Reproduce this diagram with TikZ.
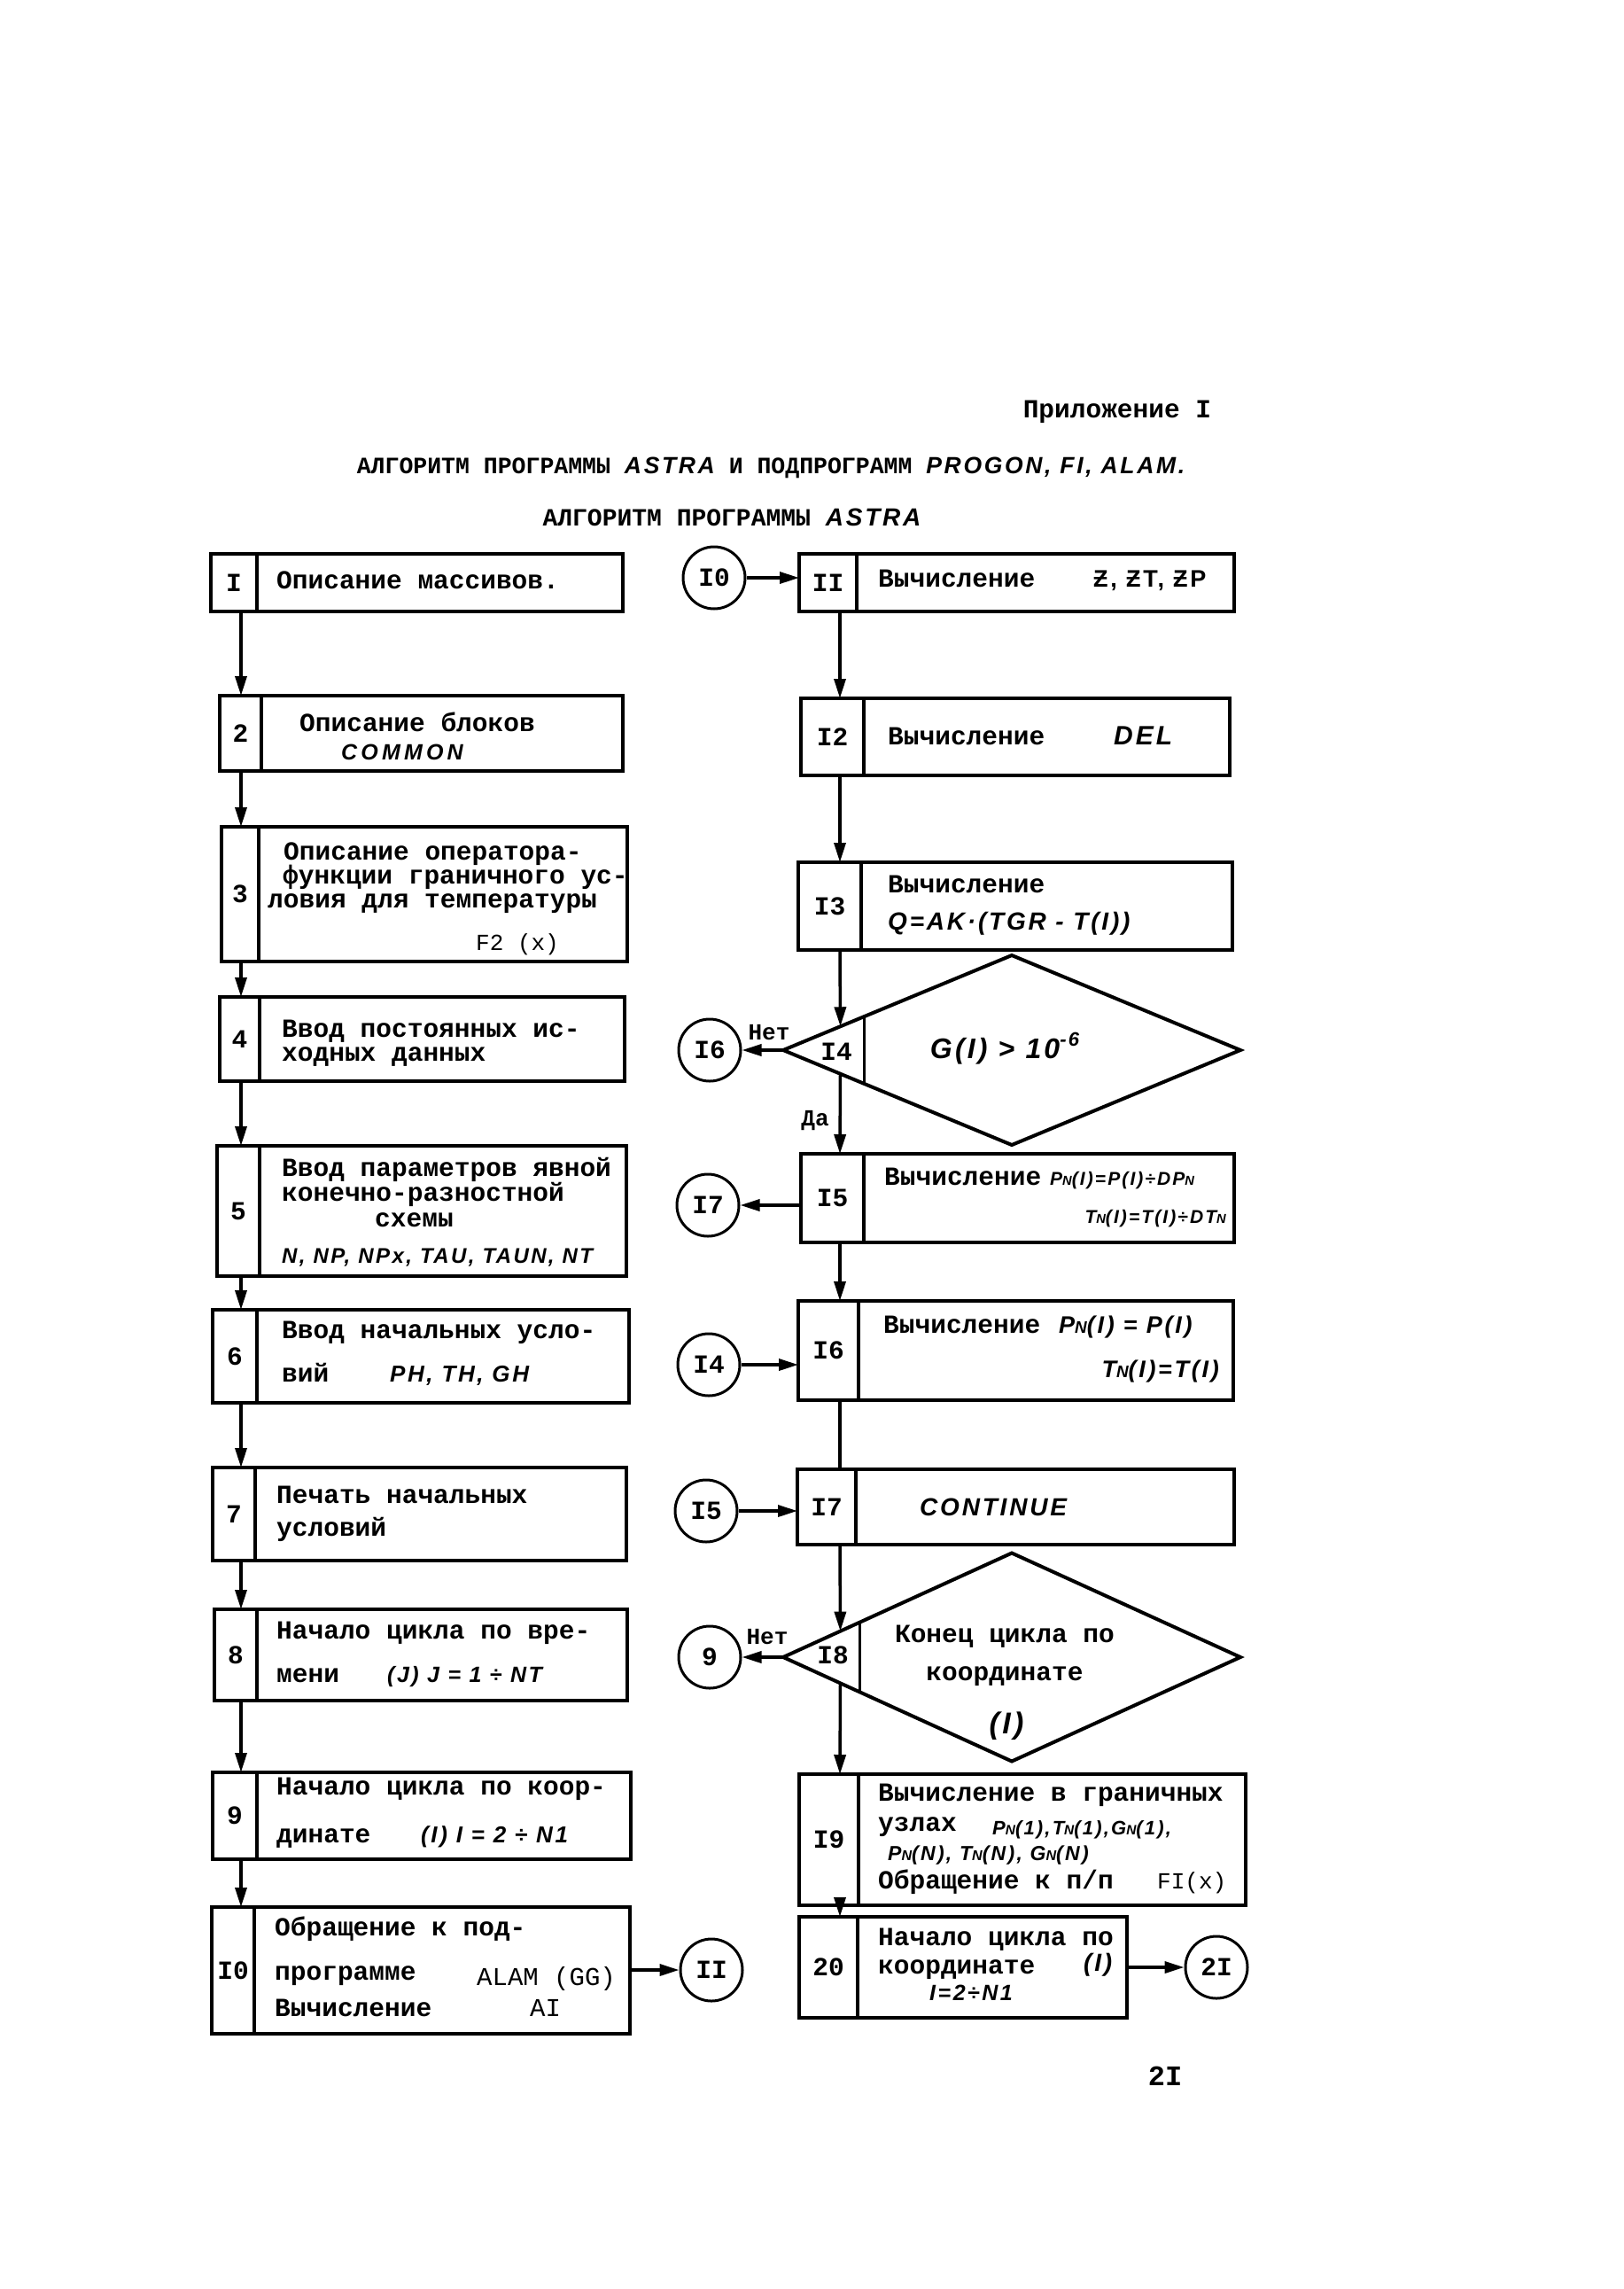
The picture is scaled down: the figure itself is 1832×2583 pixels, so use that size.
\documentclass[tikz,border=0pt]{standalone}
\usepackage{fontspec}
\setmainfont{Liberation Mono}
\newfontfamily\hand[LetterSpace=10]{Liberation Sans}
\usetikzlibrary{arrows.meta,calc,shapes.geometric}
\newcommand{\hw}[2][25]{{\hand\itshape\fontsize{#1}{#1}\selectfont #2}}
\newcommand{\sn}{\scalebox{0.7}{N}}
\newcommand{\tp}[2][29]{{\mdseries\fontsize{#1}{#1}\selectfont #2}}
\newcommand{\blk}[7]{%
  \node[numcell, minimum width=#4-#2, minimum height=#5-#3, anchor=north west] (n#1) at (#2,#3) {#7};
  \node[box, minimum width=#6-#4, minimum height=#5-#3, anchor=north west] (b#1) at (#4,#3) {};}

\begin{document}
\begin{tikzpicture}[x=1pt,y=-1pt]
    \tikzstyle{every node}=[font=\fontsize{29.5}{27}\selectfont\bfseries]
    \tikzstyle{box}=[draw, line width=4pt, inner sep=0pt, outer sep=0pt]
    \tikzstyle{numcell}=[box]
    \tikzstyle{tx}=[anchor=west, inner sep=0pt, text height=20pt, text depth=6pt]
    \tikzstyle{conn}=[draw, circle, line width=3pt, minimum size=70pt, inner sep=0pt]
    \tikzstyle{dec}=[draw, diamond, line width=4pt, inner sep=0pt, outer sep=0pt]
    \tikzstyle{arr}=[line width=3.5pt, -{Triangle[length=22pt,width=13pt]}]
    \tikzstyle{link}=[line width=3.5pt]
    \fill[white] (0,0) rectangle (1832,2583);
    \useasboundingbox (0,0) rectangle (1832,2583);
    \coordinate (ax) at (272,0);
    \coordinate (bx) at (948,0);

    \node (hdr1) at (1261,465) {Приложение I};
    \node (hdr2) at (870,528) {\fontsize{26.5}{28}\selectfont АЛГОРИТМ ПРОГРАММЫ \hw[26.5]{ASTRA} И ПОДПРОГРАММ \hw[26.5]{PROGON, FI, ALAM.}};
    \node (hdr3) at (826,584) {\fontsize{28}{28}\selectfont АЛГОРИТМ ПРОГРАММЫ \hw[28]{ASTRA}};

    \blk{1}{238}{625}{290}{690}{703}{I}
    \blk{2}{248}{785}{295}{870}{703}{2}
    \blk{3}{250}{933}{292}{1085}{708}{3}
    \blk{4}{248}{1125}{293}{1220}{705}{4}
    \blk{5}{245}{1293}{293}{1440}{707}{5}
    \blk{6}{240}{1478}{290}{1583}{710}{6}
    \blk{7}{240}{1656}{288}{1761}{707}{7}
    \blk{8}{242}{1816}{290}{1919}{708}{8}
    \blk{9}{240}{2000}{290}{2098}{712}{9}
    \blk{10}{239}{2152}{287}{2295}{711}{I0}

    \blk{11}{902}{625}{967}{690}{1393}{II}
    \blk{12}{904}{788}{975}{875}{1388}{I2}
    \blk{13}{901}{973}{972}{1072}{1391}{I3}
    \blk{15}{904}{1302}{975}{1402}{1393}{I5}
    \blk{16}{901}{1468}{969}{1580}{1392}{I6}
    \blk{17}{900}{1658}{966}{1743}{1393}{I7}
    \blk{19}{902}{2002}{969}{2150}{1406}{I9}
    \blk{20}{902}{2163}{968}{2277}{1272}{20}

    \node[dec, minimum width=516, minimum height=214] (d14) at (1142,1185) {};
    \node[dec, minimum width=516, minimum height=235] (d18) at (1142,1870) {};
    \draw[line width=3pt] ($(d14.west)!0.353!(d14.north)$) -- ($(d14.west)!0.353!(d14.south)$);
    \draw[line width=3pt] ($(d18.west)!0.337!(d18.north)$) -- ($(d18.west)!0.337!(d18.south)$);
    \node (n14) at (944,1187) {I4};
    \node (n18) at (940,1868) {I8};

    \node[conn] (c10) at (806,652) {I0};
    \node[conn] (c16) at (801,1185) {I6};
    \node[conn] (c17) at (799,1360) {I7};
    \node[conn] (c14) at (800,1540) {I4};
    \node[conn] (c15) at (797,1705) {I5};
    \node[conn] (c9) at (801,1870) {9};
    \node[conn] (cII) at (803,2223) {II};
    \node[conn] (c21) at (1373,2220) {2I};

    \node[tx] (t1) at (312,657) {Описание массивов.};
    \node[tx] (t2a) at (338,818) {Описание блоков};
    \node[tx] (t2b) at (385,850) {\hw{C\,O\,M\,M\,O\,N}};
    \node[tx] (t3a) at (320,963) {Описание оператора-};
    \node[tx] (t3b) at (319,990) {функции граничного ус-};
    \node[tx] (t3c) at (302,1017) {ловия для температуры};
    \node[tx] (t3d) at (537,1065) {\tp[26]{F2 (x)}};
    \node[tx] (t4a) at (318,1163) {Ввод постоянных ис-};
    \node[tx] (t4b) at (318,1190) {ходных данных};
    \node[tx] (t5a) at (318,1320) {Ввод параметров явной};
    \node[tx] (t5b) at (318,1348) {конечно-разностной};
    \node[tx] (t5c) at (423,1377) {схемы};
    \node[tx] (t5d) at (318,1418) {\hw[24]{N, NP, NPx, TAU, TAUN, NT}};
    \node[tx] (t6a) at (318,1503) {Ввод начальных усло-};
    \node[tx] (t6b) at (318,1552) {вий};
    \node[tx] (t6c) at (440,1552) {\hw[26]{PH, TH, GH}};
    \node[tx] (t7a) at (312,1689) {Печать начальных};
    \node[tx] (t7b) at (312,1726) {условий};
    \node[tx] (t8a) at (312,1842) {Начало цикла по вре-};
    \node[tx] (t8b) at (312,1891) {мени};
    \node[tx] (t8c) at (437,1891) {\hw[25]{(J) J = 1 ÷ NT}};
    \node[tx] (t9a) at (312,2018) {Начало цикла по коор-};
    \node[tx] (t9b) at (312,2072) {динате};
    \node[tx] (t9c) at (475,2072) {\hw[26]{(I) I = 2 ÷ N1}};
    \node[tx] (t10a) at (310,2177) {Обращение к под-};
    \node[tx] (t10b) at (310,2227) {программе};
    \node[tx] (t10c) at (538,2233) {\tp{ALAM (GG)}};
    \node[tx] (t10d) at (310,2268) {Вычисление};
    \node[tx] (t10e) at (598,2268) {\tp{AI}};

    \node[tx] (t11a) at (991,655) {Вычисление};
    \node[tx] (t11b) at (1234,655) {{\hand\fontsize{27}{27}\selectfont Ƶ, ƵT, ƵP}};
    \node[tx] (t12a) at (1002,833) {Вычисление};
    \node[tx] (t12b) at (1257,833) {\hw[30]{DEL}};
    \node[tx] (t13a) at (1002,1000) {Вычисление};
    \node[tx] (t13b) at (1002,1042) {\hw[28]{Q=AK·(TGR - T(I))}};
    \node (t14) at (1134,1183) {\hw[32]{G(I) > 10\raisebox{14pt}{\fontsize{22}{22}\selectfont -6}}};
    \node[tx] (t15a) at (998,1330) {Вычисление};
    \node[tx] (t15b) at (1185,1330) {\hw[21]{P\sn(I)=P(I)÷DP\sn}};
    \node[tx, anchor=east] (t15c) at (1384,1373) {\hw[21]{T\sn(I)=T(I)÷DT\sn}};
    \node[tx] (t16a) at (997,1497) {Вычисление};
    \node[tx] (t16b) at (1195,1497) {\hw[27]{P\sn(I) = P(I)}};
    \node[tx, anchor=east] (t16c) at (1376,1547) {\hw[27]{T\sn(I)=T(I)}};
    \node[tx] (t17) at (1038,1703) {\hw[28]{CONTINUE}};
    \node (t18a) at (1134,1847) {Конец цикла по};
    \node (t18b) at (1134,1892) {координате};
    \node (t18c) at (1136,1948) {\hw[34]{(I)}};
    \node[tx] (t19a) at (991,2025) {Вычисление в граничных};
    \node[tx] (t19b) at (991,2059) {узлах};
    \node[tx] (t19c) at (1120,2063) {\hw[22]{P\sn(1),T\sn(1),G\sn(1),}};
    \node[tx] (t19d) at (1002,2092) {\hw[23]{P\sn(N), T\sn(N), G\sn(N)}};
    \node[tx] (t19e) at (991,2124) {Обращение к п/п};
    \node[tx] (t19f) at (1306,2124) {\tp[26]{FI(x)}};
    \node[tx] (t20a) at (991,2188) {Начало цикла по};
    \node[tx] (t20b) at (991,2220) {координате};
    \node[tx] (t20c) at (1223,2217) {\hw[28]{(I)}};
    \node[tx] (t20d) at (1049,2250) {\hw[25]{I=2÷N1}};

    \node (no14) at (868,1165) {\fontsize{26}{26}\selectfont Нет};
    \node (yes14) at (920,1265) {\fontsize{26}{26}\selectfont Да};
    \node (no18) at (866,1847) {\fontsize{26}{26}\selectfont Нет};
    \node (pg) at (1315,2343) {\fontsize{32}{32}\selectfont 2I};

    \draw[arr] (n1.south -| ax) -- (n2.north -| ax);
    \draw[arr] (n2.south -| ax) -- (n3.north -| ax);
    \draw[arr] (n3.south -| ax) -- (n4.north -| ax);
    \draw[arr] (n4.south -| ax) -- (n5.north -| ax);
    \draw[arr] (n5.south -| ax) -- (n6.north -| ax);
    \draw[arr] (n6.south -| ax) -- (n7.north -| ax);
    \draw[arr] (n7.south -| ax) -- (n8.north -| ax);
    \draw[arr] (n8.south -| ax) -- (n9.north -| ax);
    \draw[arr] (n9.south -| ax) -- (n10.north -| ax);

    \draw[arr] (n11.south -| bx) -- (n12.north -| bx);
    \draw[arr] (n12.south -| bx) -- (n13.north -| bx);
    \draw[arr] (n13.south -| bx) -- ($(d14.west)!0.25!(d14.north)$);
    \draw[arr] ($(d14.west)!0.25!(d14.south)$) -- (n15.north -| bx);
    \draw[arr] (n15.south -| bx) -- (n16.north -| bx);
    \draw[link] (n16.south -| bx) -- (n17.north -| bx);
    \draw[arr] (n17.south -| bx) -- ($(d18.west)!0.25!(d18.north)$);
    \draw[arr] ($(d18.west)!0.25!(d18.south)$) -- (n19.north -| bx);
    \draw[arr] (n19.south -| bx) -- (n20.north -| bx);

    \draw[arr] (c10.east) -- (c10.east -| n11.west);
    \draw[arr] (d14.west) -- (c16.east);
    \draw[arr] (n15.west |- c17) -- (c17.east);
    \draw[arr] (c14.east) -- (c14.east -| n16.west);
    \draw[arr] (c15.east) -- (c15.east -| n17.west);
    \draw[arr] (d18.west) -- (c9.east);
    \draw[arr] (b10.east |- cII) -- (cII.west);
    \draw[arr] (b20.east |- c21) -- (c21.west);
\end{tikzpicture}
\end{document}
